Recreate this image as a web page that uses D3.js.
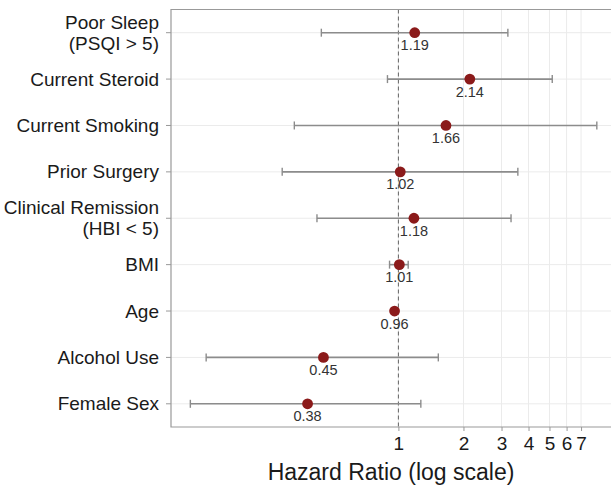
<!DOCTYPE html>
<html>
<head>
<meta charset="utf-8">
<script src="https://cdn.jsdelivr.net/npm/d3@7"></script>
<style>
  body { margin: 0; background: #fff; }
  text { font-family: "Liberation Sans", Arial, sans-serif; }
</style>
</head>
<body>
<script>
// data
var factors = ["Poor Sleep\n(PSQI > 5)", "Current Steroid", "Current Smoking", "Prior Surgery",
               "Clinical Remission\n(HBI < 5)", "BMI", "Age", "Alcohol Use", "Female Sex"];
var hr    = [1.19, 2.14, 1.66, 1.02, 1.18, 1.01, 0.96, 0.45, 0.38];
var lower = [0.44, 0.89, 0.33, 0.29, 0.42, 0.91, 0.94, 0.129, 0.109];
var upper = [3.21, 5.15, 8.28, 3.57, 3.32, 1.11, 0.98, 1.53, 1.27];
var xTicks = [1, 2, 3, 4, 5, 6, 7];

var W = 612, H = 487;
var margin = {top: 9.5, right: 1, bottom: 60, left: 171};
var width = W - margin.left - margin.right,
    height = H - margin.top - margin.bottom;

var svg = d3.select("body").append("svg")
    .attr("width", W)
    .attr("height", H);

var g = svg.append("g")
    .attr("transform", "translate(" + margin.left + "," + margin.top + ")");

var x = d3.scaleLog().domain([0.0887, 9.63]).range([0, width]);
var y = d3.scalePoint().domain(factors).range([0, height]).padding(0.5);

// grid
g.selectAll(".hgrid").data(factors).enter().append("line")
    .attr("x1", 0).attr("x2", width)
    .attr("y1", function (d) { return y(d); })
    .attr("y2", function (d) { return y(d); })
    .style("stroke", "#ebebeb").style("stroke-width", 1);

g.selectAll(".vgrid").data(xTicks).enter().append("line")
    .attr("x1", function (d) { return x(d); })
    .attr("x2", function (d) { return x(d); })
    .attr("y1", 0).attr("y2", height)
    .style("stroke", "#ebebeb").style("stroke-width", 1);

// reference line at HR = 1
g.append("line")
    .attr("x1", x(1)).attr("x2", x(1))
    .attr("y1", 0).attr("y2", height)
    .style("stroke", "#555").style("stroke-width", 0.9)
    .style("stroke-dasharray", "4,3");

// panel border (top, left, bottom)
g.append("path")
    .attr("d", "M" + width + ",0H0V" + height + "H" + width)
    .style("fill", "none").style("stroke", "#999").style("stroke-width", 1.2);

var rows = factors.map(function (f, i) {
    return {f: f, hr: hr[i], lo: lower[i], hi: upper[i]};
});

// error bars
var bars = g.selectAll(".ci").data(rows).enter().append("g");
bars.append("line")
    .attr("x1", function (d) { return x(d.lo); })
    .attr("x2", function (d) { return x(d.hi); })
    .attr("y1", function (d) { return y(d.f); })
    .attr("y2", function (d) { return y(d.f); })
    .style("stroke", "#8c8c8c").style("stroke-width", 1.6);
["lo", "hi"].forEach(function (k) {
    bars.append("line")
        .attr("x1", function (d) { return x(d[k]); })
        .attr("x2", function (d) { return x(d[k]); })
        .attr("y1", function (d) { return y(d.f) - 4; })
        .attr("y2", function (d) { return y(d.f) + 4; })
        .style("stroke", "#8c8c8c").style("stroke-width", 1.4);
});

// points
g.selectAll(".pt").data(rows).enter().append("circle")
    .attr("cx", function (d) { return x(d.hr); })
    .attr("cy", function (d) { return y(d.f); })
    .attr("r", 5.4)
    .style("fill", "#8b1a1a");

// value labels
g.selectAll(".val").data(rows).enter().append("text")
    .attr("x", function (d) { return x(d.hr); })
    .attr("y", function (d) { return y(d.f) + 17.5; })
    .attr("text-anchor", "middle")
    .style("font-size", "14.5px")
    .style("fill", "#333")
    .text(function (d) { return d.hr.toFixed(2); });

// y axis ticks and labels
g.selectAll(".ytick").data(factors).enter().append("line")
    .attr("x1", -5).attr("x2", 0)
    .attr("y1", function (d) { return y(d); })
    .attr("y2", function (d) { return y(d); })
    .style("stroke", "#999").style("stroke-width", 1);

var ylab = g.selectAll(".ylab").data(factors).enter().append("text")
    .attr("text-anchor", "end")
    .style("font-size", "19px")
    .style("fill", "#1a1a1a")
    .attr("transform", function (d) { return "translate(-12," + y(d) + ")"; });
ylab.each(function (d) {
    var lines = d.split("\n");
    var t = d3.select(this);
    lines.forEach(function (l, i) {
        t.append("tspan")
            .attr("x", 0)
            .attr("y", (i - (lines.length - 1) / 2) * 21 + 6.5)
            .text(l);
    });
});

// x axis
var xa = g.append("g")
    .attr("transform", "translate(0," + height + ")")
    .call(d3.axisBottom(x).tickValues(xTicks).tickFormat(d3.format("d")).tickSize(4).tickPadding(6));
xa.select(".domain").remove();
xa.selectAll("line").style("stroke", "#999");
xa.selectAll("text")
    .style("font-size", "19px")
    .style("fill", "#1a1a1a")
    .style("font-family", "'Liberation Sans', Arial, sans-serif");

svg.append("text")
    .attr("x", margin.left + width / 2)
    .attr("y", 480)
    .attr("text-anchor", "middle")
    .style("font-size", "23px")
    .style("fill", "#1a1a1a")
    .text("Hazard Ratio (log scale)");
</script>
</body>
</html>
